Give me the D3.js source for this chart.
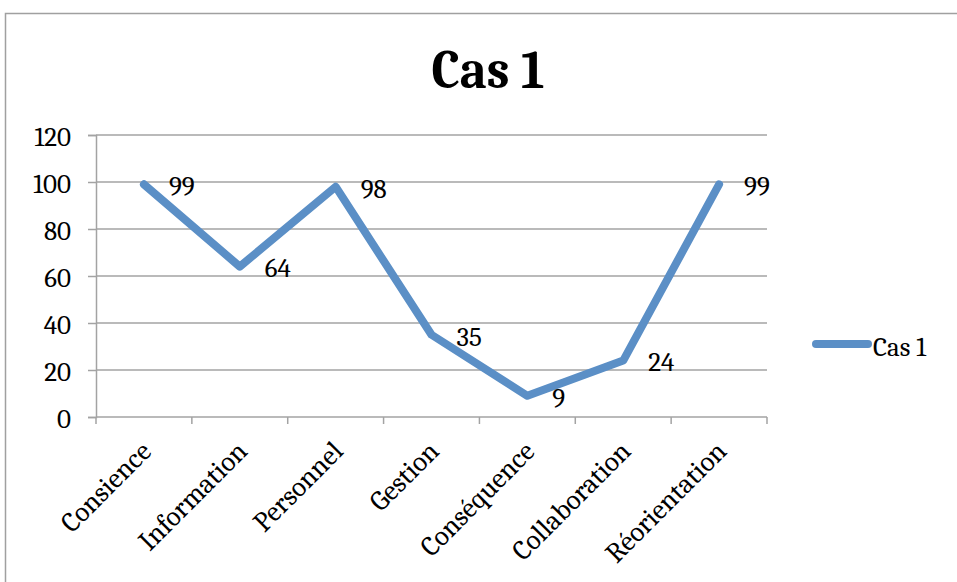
<!DOCTYPE html>
<html>
<head>
<meta charset="utf-8">
<script src="https://cdn.jsdelivr.net/npm/d3@7"></script>
<style>
  html, body { margin: 0; padding: 0; background: #fff; }
  svg { display: block; }
  text { font-family: Cambria, "Liberation Serif", "DejaVu Serif", serif; fill: #000; }
</style>
</head>
<body>
<svg id="chart" width="957" height="582"></svg>
<script>
// Chart data
const categories = ["Consience", "Information", "Personnel", "Gestion", "Conséquence", "Collaboration", "Réorientation"];
const values = [99, 64, 98, 35, 9, 24, 99];
const seriesName = "Cas 1";
const titleText = "Cas 1";
const yTicks = [0, 20, 40, 60, 80, 100, 120];

const svg = d3.select("#chart");
const W = 957, H = 582;
const plot = { left: 96, right: 767, top: 135, bottom: 417 };
const lineColor = "#5b8fc6";
const gridColor = "#a3a3a3";
const fontFamily = "Cambria, 'Liberation Serif', 'DejaVu Serif', serif";
const fs = 27;

// Outer chart frame
svg.append("rect")
  .attr("x", 5.5).attr("y", 13.5)
  .attr("width", W + 10).attr("height", H + 10)
  .attr("fill", "none").attr("stroke", "#a0a0a0").attr("stroke-width", 1.5);

// Title
svg.append("text")
  .attr("x", 488).attr("y", 88)
  .attr("text-anchor", "middle")
  .attr("font-weight", "bold")
  .attr("font-size", 54)
  .attr("textLength", 113)
  .attr("lengthAdjust", "spacingAndGlyphs")
  .text(titleText);

const x = d3.scaleBand().domain(categories).range([plot.left, plot.right]);
const y = d3.scaleLinear().domain([0, 120]).range([plot.bottom, plot.top]);

// Value axis with short outside ticks
const yAxis = d3.axisLeft(y).tickValues(yTicks).tickSize(8).tickPadding(17);
const gy = svg.append("g").attr("transform", `translate(${plot.left},0)`).call(yAxis);
gy.select(".domain").attr("stroke", gridColor).attr("stroke-width", 1.5);
gy.selectAll(".tick line").attr("stroke", gridColor).attr("stroke-width", 1.5);
gy.selectAll(".tick text")
  .attr("font-family", fontFamily)
  .attr("font-size", fs).attr("fill", "#000")
  .attr("dy", "0.4em");

// Horizontal gridlines
svg.append("g").selectAll("line")
  .data(yTicks.filter(d => d > 0))
  .join("line")
  .attr("x1", plot.left).attr("x2", plot.right)
  .attr("y1", d => y(d)).attr("y2", d => y(d))
  .attr("stroke", gridColor).attr("stroke-width", 1.5);

// Category axis: ticks at band boundaries
const gx = svg.append("g").attr("transform", `translate(0,${plot.bottom})`);
gx.append("line")
  .attr("x1", plot.left).attr("x2", plot.right)
  .attr("stroke", gridColor).attr("stroke-width", 1.5);
const boundaries = categories.map(c => x(c)).concat([plot.right]);
gx.selectAll("line.tk").data(boundaries).join("line").attr("class", "tk")
  .attr("x1", d => d).attr("x2", d => d).attr("y1", 0).attr("y2", 7)
  .attr("stroke", gridColor).attr("stroke-width", 1.5);
gx.selectAll("text").data(categories).join("text")
  .attr("transform", d => `translate(${x(d) + x.bandwidth() / 2 + 9},${36}) rotate(-45)`)
  .attr("text-anchor", "end")
  .attr("font-size", 28)
  .text(d => d);

// Series line
const cx = d => x(d) + x.bandwidth() / 2;
const line = d3.line().x((d, i) => cx(categories[i])).y(d => y(d));
svg.append("path")
  .datum(values)
  .attr("d", line)
  .attr("fill", "none")
  .attr("stroke", lineColor)
  .attr("stroke-width", 8)
  .attr("stroke-linejoin", "round")
  .attr("stroke-linecap", "round");

// Value labels to the right of each point
svg.append("g").selectAll("text")
  .data(values)
  .join("text")
  .attr("x", (d, i) => cx(categories[i]) + 25)
  .attr("y", d => y(d))
  .attr("dy", "0.4em")
  .attr("font-size", fs)
  .text(d => d);

// Legend
const lg = svg.append("g");
lg.append("line")
  .attr("x1", 816).attr("x2", 868).attr("y1", 344).attr("y2", 344)
  .attr("stroke", lineColor).attr("stroke-width", 8).attr("stroke-linecap", "round");
lg.append("text")
  .attr("x", 873).attr("y", 356)
  .attr("font-size", fs)
  .text(seriesName);
</script>
</body>
</html>
